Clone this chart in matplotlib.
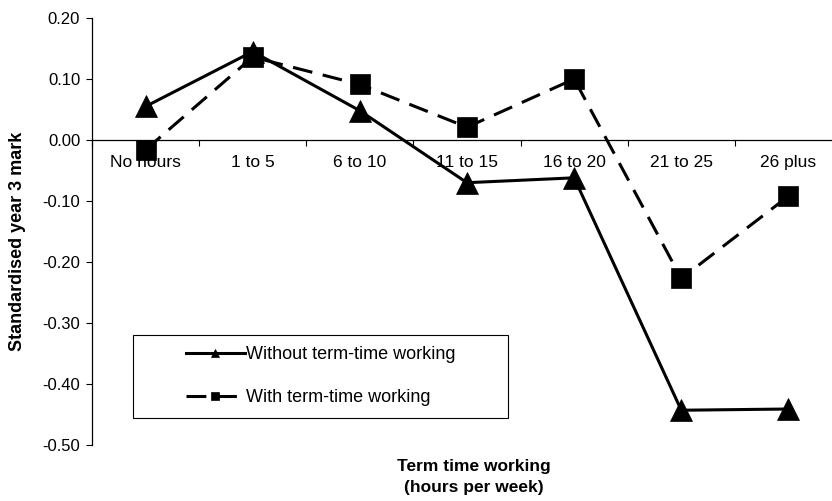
import matplotlib
matplotlib.use("Agg")
import matplotlib.pyplot as plt
import matplotlib.patches as mpatches
import numpy as np

plt.rcParams['font.family'] = ['Liberation Sans', 'DejaVu Sans']
plt.rcParams['axes.unicode_minus'] = False

# ── data ─────────────────────────────────────────────
categories = ['No hours', '1 to 5', '6 to 10', '11 to 15',
              '16 to 20', '21 to 25', '26 plus']
without_tt = [0.055, 0.145, 0.048, -0.070, -0.062, -0.443, -0.441]
with_tt    = [-0.016, 0.136, 0.091, 0.021, 0.100, -0.227, -0.092]
yticks = [0.20, 0.10, 0.00, -0.10, -0.20, -0.30, -0.40, -0.50]

W, H = 832, 501
fig = plt.figure(figsize=(W / 100, H / 100), dpi=100, facecolor='white')
# plot area runs past the right edge, as in the reference
ax = fig.add_axes([92 / W, 1 - 445 / H, (842 - 92) / W, (445 - 18) / H])

x = np.arange(len(categories))
ax.plot(x, without_tt, color='black', lw=2.2, marker='^', ms=16, mew=0.5,
        label='Without term-time working', clip_on=False, zorder=3)
ax.plot(x, with_tt, color='black', lw=2.2, marker='s', ms=15, mew=0.5,
        dashes=(6.5, 3.5), label='With term-time working', clip_on=False, zorder=3)

ax.set_xlim(-0.5, 6.5)
ax.set_ylim(-0.5, 0.2)

# ── axes styling ─────────────────────────────────────
for s in ('top', 'right'):
    ax.spines[s].set_visible(False)
ax.spines['bottom'].set_position(('data', 0))
ax.spines['bottom'].set_linewidth(0.9)
ax.spines['left'].set_linewidth(0.9)

ax.set_yticks(yticks)
ax.set_yticklabels([f'{v:.2f}' for v in yticks], fontsize=12)
ax.tick_params(axis='y', direction='out', length=4, width=0.8, pad=4.5)

ax.set_xticks(x)
ax.set_xticklabels(categories, fontsize=12.5)
ax.set_xticks(np.arange(-0.5, 7, 1), minor=True)
ax.tick_params(axis='x', which='major', length=0, pad=11)
ax.tick_params(axis='x', which='minor', direction='out', length=4, width=0.8)

# ── axis titles ──────────────────────────────────────
fig.text(18 / W, 1 - 241 / H, 'Standardised year 3 mark', rotation=90,
         ha='center', va='center', fontsize=13, fontweight='bold')
fig.text(474 / W, 1 - 477 / H, 'Term time working\n(hours per week)',
         ha='center', va='center', fontsize=12.5, fontweight='bold',
         linespacing=1.45)

# ── legend with hand-drawn box ───────────────────────
fig.patches.append(mpatches.Rectangle((133 / W, 1 - 418 / H), 375 / W, 83 / H,
                                      transform=fig.transFigure, fill=False,
                                      edgecolor='black', linewidth=0.8))
ax.legend(loc='upper left', bbox_to_anchor=(186 / W, 1 - 346 / H),
          bbox_transform=fig.transFigure, frameon=False, fontsize=13,
          markerscale=0.4, handlelength=3.25, handletextpad=0.1,
          labelspacing=1.45, borderpad=0, borderaxespad=0)

fig.savefig('out.png', dpi=100, facecolor='white')
